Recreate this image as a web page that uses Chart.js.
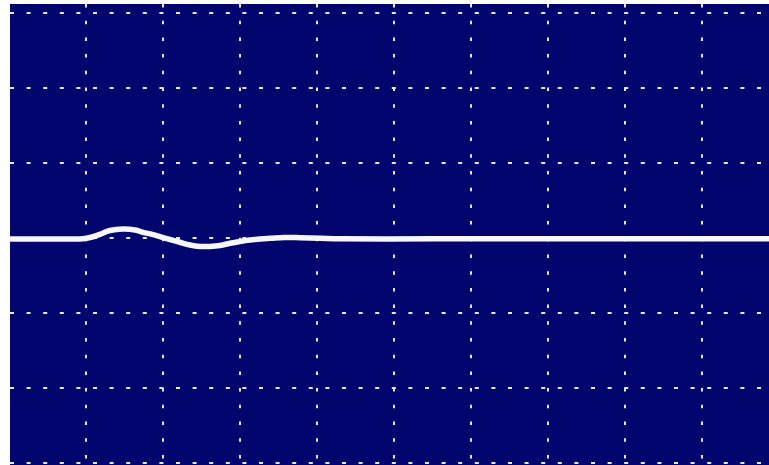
<!DOCTYPE html>
<html>
<head>
<meta charset="utf-8">
<title>Scope trace</title>
<script src="https://cdn.jsdelivr.net/npm/chart.js@4/dist/chart.umd.min.js"></script>
<style>
  html, body { margin: 0; padding: 0; background: #ffffff; }
  #wrap { width: 769px; height: 465px; }
</style>
</head>
<body>
<div id="wrap"><canvas id="scope" width="769" height="465"></canvas></div>
<script>
// Trace samples: time in divisions, amplitude in divisions
const timeDiv = [0.0, 0.92, 0.99, 1.08, 1.18, 1.31, 1.48, 1.64, 1.74, 1.86, 1.96,
                 2.09, 2.22, 2.35, 2.48, 2.61, 2.74, 2.87, 3.00, 3.13, 3.26, 3.39,
                 3.58, 3.78, 4.04, 4.30, 5.5, 7.0, 8.5, 9.87];
const voltDiv = [-0.013, -0.013, -0.007, 0.013, 0.049, 0.100, 0.120, 0.107, 0.076, 0.047, 0.017,
                 -0.020, -0.057, -0.093, -0.113, -0.113, -0.100, -0.071, -0.047, -0.027, -0.013, -0.004,
                 0.007, 0.004, -0.004, -0.011, -0.011, -0.011, -0.011, -0.011];

// Graticule divisions
const timeGrid = [1, 2, 3, 4, 5, 6, 7, 8, 9];
const voltGrid = [-3, -2, -1, 0, 1, 2, 3];

// Visible window of the screen, in divisions
const timeRange = [0.013, 9.87];
const voltRange = [-3.027, 3.12];

const screenColor = '#03056f';
const gridColor = '#e6e8f4';
const traceColor = '#f7f7ff';

const screenBackground = {
  id: 'screenBackground',
  beforeDraw(chart) {
    const { ctx, chartArea: a } = chart;
    ctx.save();
    ctx.fillStyle = screenColor;
    ctx.fillRect(a.left, a.top, a.right - a.left, a.bottom - a.top);
    ctx.restore();
  }
};

new Chart(document.getElementById('scope'), {
  type: 'line',
  data: {
    datasets: [{
      data: timeDiv.map((t, i) => ({ x: t, y: voltDiv[i] })),
      borderColor: traceColor,
      borderWidth: 5.5,
      pointRadius: 0,
      fill: false,
      tension: 0.4,
      borderCapStyle: 'round',
      borderJoinStyle: 'round'
    }]
  },
  options: {
    responsive: false,
    animation: false,
    layout: { padding: { left: 10, top: 4, right: 0, bottom: 0 } },
    plugins: { legend: { display: false }, tooltip: { enabled: false } },
    scales: {
      x: {
        type: 'linear',
        min: timeRange[0],
        max: timeRange[1],
        afterBuildTicks: s => { s.ticks = timeGrid.map(v => ({ value: v })); },
        ticks: { display: false },
        grid: { color: gridColor, lineWidth: 2, drawTicks: false },
        border: { display: false, dash: [3.5, 13.2], dashOffset: 0 }
      },
      y: {
        type: 'linear',
        min: voltRange[0],
        max: voltRange[1],
        afterBuildTicks: s => { s.ticks = voltGrid.map(v => ({ value: v })); },
        ticks: { display: false },
        grid: { color: gridColor, lineWidth: 2, drawTicks: false },
        border: { display: false, dash: [4, 12.6], dashOffset: 0 }
      }
    }
  },
  plugins: [screenBackground]
});
</script>
</body>
</html>
